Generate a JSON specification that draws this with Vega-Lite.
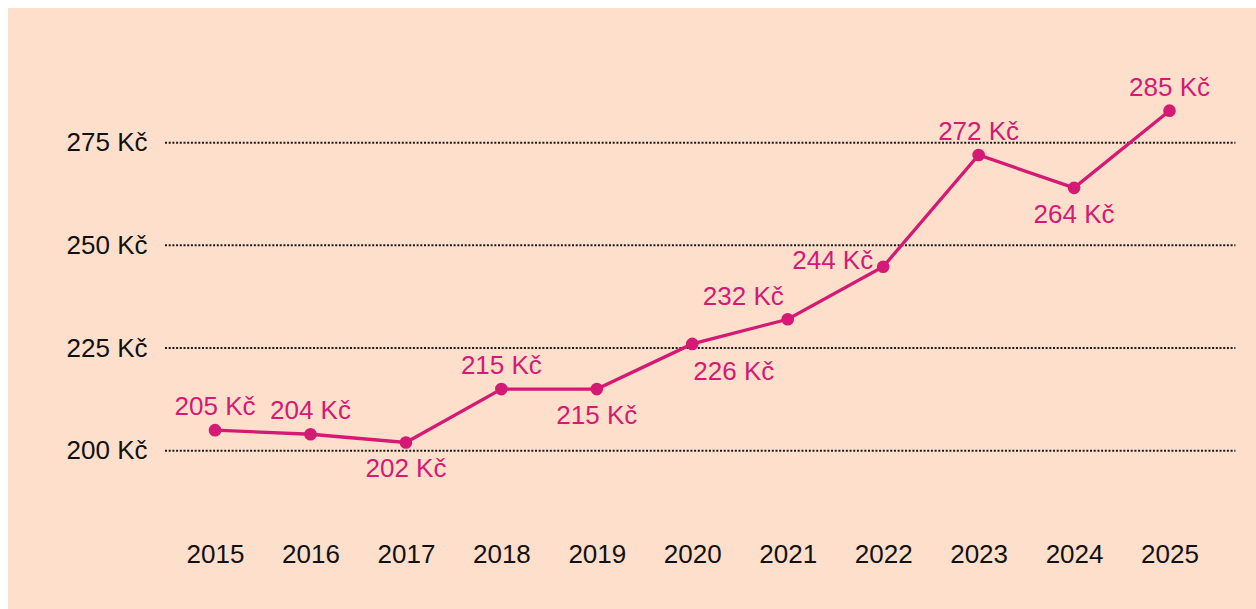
{
  "$schema": "https://vega.github.io/schema/vega-lite/v6.json",
  "width": 1248,
  "height": 601,
  "autosize": {"type": "none"},
  "padding": {"left": 8, "top": 8, "right": 0, "bottom": 0},
  "background": "#ffffff",
  "config": {
    "view": {"fill": "#FDDFCB", "stroke": null},
    "font": "Liberation Sans"
  },
  "datasets": {
    "prices": [
      {"year": 2015, "price": 205, "label": "205 Kč", "pos": "above"},
      {"year": 2016, "price": 204, "label": "204 Kč", "pos": "above"},
      {"year": 2017, "price": 202, "label": "202 Kč", "pos": "below"},
      {"year": 2018, "price": 215, "label": "215 Kč", "pos": "above"},
      {"year": 2019, "price": 215, "label": "215 Kč", "pos": "below"},
      {"year": 2020, "price": 226, "label": "226 Kč", "pos": "belowright"},
      {"year": 2021, "price": 232, "label": "232 Kč", "pos": "aboveleft"},
      {"year": 2022, "price": 244.8, "label": "244 Kč", "pos": "left"},
      {"year": 2023, "price": 272, "label": "272 Kč", "pos": "above"},
      {"year": 2024, "price": 264, "label": "264 Kč", "pos": "below"},
      {"year": 2025, "price": 282.8, "label": "285 Kč", "pos": "above"}
    ],
    "grid": [{"tick": 200}, {"tick": 225}, {"tick": 250}, {"tick": 275}]
  },
  "layer": [
    {
      "data": {"name": "grid"},
      "mark": {"type": "rule", "color": "#1a1a1a", "strokeWidth": 2, "strokeDash": [2, 1.7]},
      "encoding": {
        "x": {"datum": 2014.476, "type": "quantitative"},
        "x2": {"datum": 2025.69},
        "y": {"field": "tick", "type": "quantitative"}
      }
    },
    {
      "data": {"name": "prices"},
      "mark": {"type": "line", "color": "#D41A74", "strokeWidth": 3.3},
      "encoding": {
        "x": {
          "field": "year", "type": "quantitative",
          "scale": {"domain": [2012.831, 2025.906], "nice": false, "zero": false},
          "axis": {
            "orient": "bottom", "values": [2015, 2016, 2017, 2018, 2019, 2020, 2021, 2022, 2023, 2024, 2025],
            "format": "d", "title": null, "domain": false, "ticks": false, "grid": false,
            "offset": -55, "labelPadding": 0, "labelBaseline": "middle",
            "labelFontSize": 26, "labelColor": "#111111", "labelFont": "Liberation Sans"
          }
        },
        "y": {
          "field": "price", "type": "quantitative",
          "scale": {"domain": [161.45, 307.8], "nice": false, "zero": false},
          "axis": {
            "orient": "left", "values": [200, 225, 250, 275],
            "labelExpr": "datum.value + ' Kč'", "title": null, "domain": false, "ticks": false, "grid": false,
            "offset": -139, "labelPadding": 0, "labelBaseline": "middle", "labelAlign": "right",
            "labelFontSize": 26, "labelColor": "#111111", "labelFont": "Liberation Sans"
          }
        }
      }
    },
    {
      "data": {"name": "prices"},
      "mark": {"type": "circle", "color": "#D41A74", "opacity": 1, "size": 160},
      "encoding": {
        "x": {"field": "year", "type": "quantitative"},
        "y": {"field": "price", "type": "quantitative"}
      }
    },
    {
      "data": {"name": "prices"},
      "transform": [{"filter": "datum.pos === 'above'"}],
      "mark": {"type": "text", "color": "#D41A74", "fontSize": 26, "baseline": "middle", "dy": -23},
      "encoding": {
        "x": {"field": "year", "type": "quantitative"},
        "y": {"field": "price", "type": "quantitative"},
        "text": {"field": "label"}
      }
    },
    {
      "data": {"name": "prices"},
      "transform": [{"filter": "datum.pos === 'below'"}],
      "mark": {"type": "text", "color": "#D41A74", "fontSize": 26, "baseline": "middle", "dy": 27},
      "encoding": {
        "x": {"field": "year", "type": "quantitative"},
        "y": {"field": "price", "type": "quantitative"},
        "text": {"field": "label"}
      }
    },
    {
      "data": {"name": "prices"},
      "transform": [{"filter": "datum.pos === 'belowright'"}],
      "mark": {"type": "text", "color": "#D41A74", "fontSize": 26, "baseline": "middle", "align": "left", "dx": 1, "dy": 28},
      "encoding": {
        "x": {"field": "year", "type": "quantitative"},
        "y": {"field": "price", "type": "quantitative"},
        "text": {"field": "label"}
      }
    },
    {
      "data": {"name": "prices"},
      "transform": [{"filter": "datum.pos === 'aboveleft'"}],
      "mark": {"type": "text", "color": "#D41A74", "fontSize": 26, "baseline": "middle", "align": "right", "dx": -4, "dy": -22},
      "encoding": {
        "x": {"field": "year", "type": "quantitative"},
        "y": {"field": "price", "type": "quantitative"},
        "text": {"field": "label"}
      }
    },
    {
      "data": {"name": "prices"},
      "transform": [{"filter": "datum.pos === 'left'"}],
      "mark": {"type": "text", "color": "#D41A74", "fontSize": 26, "baseline": "middle", "align": "right", "dx": -10, "dy": -6},
      "encoding": {
        "x": {"field": "year", "type": "quantitative"},
        "y": {"field": "price", "type": "quantitative"},
        "text": {"field": "label"}
      }
    }
  ]
}
